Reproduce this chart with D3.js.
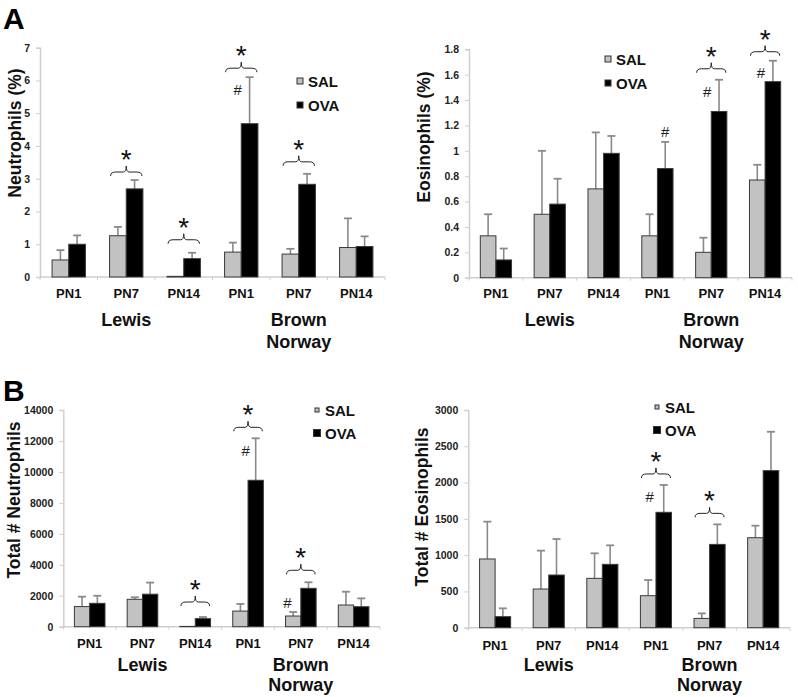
<!DOCTYPE html>
<html><head><meta charset="utf-8">
<script src="https://cdn.jsdelivr.net/npm/d3@7"></script>
<style>body{margin:0;background:#fff}svg{display:block}text{font-family:"Liberation Sans",Arial,sans-serif}</style>
</head><body><svg id="c" width="798" height="697"></svg>
<script>
// ---- data ----
const timepoints = ["PN1","PN7","PN14","PN1","PN7","PN14"];
const strains = ["Lewis","Brown Norway"];
const series = ["SAL","OVA"];

const neutPctSAL = [0.52,1.26,0.02,0.76,0.70,0.90];
const neutPctSALErr = [0.30,0.27,0,0.29,0.16,0.89];
const neutPctOVA = [1.00,2.69,0.56,4.68,2.83,0.93];
const neutPctOVAErr = [0.27,0.27,0.18,1.42,0.32,0.31];
const neutPctTicks = [0,1,2,3,4,5,6,7];

const eosPctSAL = [0.33,0.50,0.70,0.33,0.20,0.77];
const eosPctSALErr = [0.17,0.50,0.445,0.17,0.115,0.12];
const eosPctOVA = [0.14,0.58,0.98,0.86,1.31,1.545];
const eosPctOVAErr = [0.09,0.20,0.137,0.21,0.25,0.165];
const eosPctTicks = [0,0.2,0.4,0.6,0.8,1,1.2,1.4,1.6,1.8];

const neutTotSAL = [1300,1770,20,1010,690,1400];
const neutTotSALErr = [640,130,0,460,260,860];
const neutTotOVA = [1510,2100,520,9460,2480,1290];
const neutTotOVAErr = [490,750,105,2710,390,540];
const neutTotTicks = [0,2000,4000,6000,8000,10000,12000,14000];

const eosTotSAL = [947,533,680,441,128,1240];
const eosTotSALErr = [514,529,345,216,69,166];
const eosTotOVA = [152,726,873,1590,1148,2164];
const eosTotOVAErr = [115,496,262,377,276,536];
const eosTotTicks = [0,500,1000,1500,2000,2500,3000];

// significance: group indices with "*" (SAL vs OVA) and "#" (vs Lewis)
const neutPctStars = [1,2,3,4];
const neutPctHash = [3];
const eosPctStars = [4,5];
const eosPctHash = [3,4,5];
const neutTotStars = [2,3,4];
const neutTotHash = [3,4];
const eosTotStars = [3,4];
const eosTotHash = [3];

// ---- layout ----
const svg = d3.select("#c");
const panels = [
  {sal:neutPctSAL,salE:neutPctSALErr,ova:neutPctOVA,ovaE:neutPctOVAErr,ticks:neutPctTicks,
   title:"Neutrophils (%)",x0:40,x1:385,yTop:47.7,yBot:277,titleX:15,titleY:133,
   tickY:298,strainY:326,norwayY:348,leg:{x:300,y:81,gap:24,sal:6,ova:6},stars:neutPctStars,hash:neutPctHash,
   braceGap:[0,8,13,9,12,0], hashPos:{3:[-12,12]}},
  {sal:eosPctSAL,salE:eosPctSALErr,ova:eosPctOVA,ovaE:eosPctOVAErr,ticks:eosPctTicks,
   title:"Eosinophils (%)",x0:469,x1:792,yTop:49.3,yBot:277.7,titleX:424,titleY:137,
   tickY:298,strainY:326,norwayY:348,leg:{x:608,y:59,gap:24,sal:6,ova:6},stars:eosPctStars,hash:eosPctHash,
   braceGap:[0,0,0,0,11,9], hashPos:{3:[0,-10],4:[-12,12],5:[-12,12]}},
  {sal:neutTotSAL,salE:neutTotSALErr,ova:neutTotOVA,ovaE:neutTotOVAErr,ticks:neutTotTicks,
   title:"Total # Neutrophils",x0:63.3,x1:380,yTop:410,yBot:626.7,titleX:14,titleY:500,
   tickY:648,strainY:671,norwayY:691,leg:{x:317,y:410,gap:23,sal:4,ova:7},stars:neutTotStars,hash:neutTotHash,
   braceGap:[0,0,15,11,12,0], hashPos:{3:[-10,12],4:[-21,20]}},
  {sal:eosTotSAL,salE:eosTotSALErr,ova:eosTotOVA,ovaE:eosTotOVAErr,ticks:eosTotTicks,
   title:"Total # Eosinophils",x0:468.3,x1:790,yTop:410,yBot:627.7,titleX:422,titleY:507,
   tickY:650,strainY:671,norwayY:691,leg:{x:657,y:407,gap:23,sal:4,ova:7},stars:eosTotStars,hash:eosTotHash,
   braceGap:[0,0,0,11,11,0], hashPos:{3:[-14,12]}}
];

const salFill = "#c2c2c2", ovaFill = "#000", errCol = "#8a8a8a", axisCol = "#cfcfcf";

panels.forEach(p => {
  const g = svg.append("g");
  const n = timepoints.length;
  const x = d3.scaleBand().domain(d3.range(n)).range([p.x0, p.x1]).paddingInner(0.42).paddingOuter(0.21);
  const xi = d3.scaleBand().domain(series).range([0, x.bandwidth()]);
  const yMax = p.ticks[p.ticks.length-1];
  const y = d3.scaleLinear().domain([0, yMax]).range([p.yBot, p.yTop]);

  // y axis
  const ya = d3.axisLeft(y).tickValues(p.ticks).tickSize(4).tickPadding(6).tickFormat(d3.format("~g"));
  const yg = g.append("g").attr("transform", `translate(${p.x0},0)`).call(ya);
  yg.select(".domain").attr("stroke", axisCol).attr("stroke-width", 1.5);
  yg.selectAll(".tick line").attr("stroke", axisCol);
  yg.selectAll(".tick text").attr("font-size", 10.5).attr("font-weight", "bold").attr("fill", "#222");

  // x baseline and tick marks at group boundaries
  g.append("line").attr("x1", p.x0).attr("x2", p.x1).attr("y1", p.yBot).attr("y2", p.yBot)
    .attr("stroke", axisCol).attr("stroke-width", 1.5);
  const step = x.step();
  g.selectAll(".xt").data(d3.range(n+1)).join("line")
    .attr("x1", i => p.x0 + i*step).attr("x2", i => p.x0 + i*step)
    .attr("y1", p.yBot).attr("y2", p.yBot+3).attr("stroke", axisCol);

  // bars
  const rows = d3.range(n).flatMap(i => [
    {i, s:"SAL", v:p.sal[i], e:p.salE[i]},
    {i, s:"OVA", v:p.ova[i], e:p.ovaE[i]}]);
  const eb = rows.filter(d => d.e > 0);
  g.selectAll(".err").data(eb).join("line")
    .attr("x1", d => x(d.i)+xi(d.s)+xi.bandwidth()/2).attr("x2", d => x(d.i)+xi(d.s)+xi.bandwidth()/2)
    .attr("y1", d => y(d.v)).attr("y2", d => y(d.v+d.e))
    .attr("stroke", errCol).attr("stroke-width", 1.6);
  g.selectAll(".cap").data(eb).join("line")
    .attr("x1", d => x(d.i)+xi(d.s)+xi.bandwidth()/2-4).attr("x2", d => x(d.i)+xi(d.s)+xi.bandwidth()/2+4)
    .attr("y1", d => y(d.v+d.e)).attr("y2", d => y(d.v+d.e))
    .attr("stroke", errCol).attr("stroke-width", 1.8);
  g.selectAll(".bar").data(rows).join("rect")
    .attr("x", d => x(d.i)+xi(d.s)).attr("width", xi.bandwidth())
    .attr("y", d => y(d.v)).attr("height", d => p.yBot - y(d.v))
    .attr("fill", d => d.s==="SAL" ? salFill : ovaFill)
    .attr("stroke", "#3a3a3a").attr("stroke-width", 1);

  // category labels
  g.selectAll(".cat").data(timepoints).join("text")
    .attr("x", (d,i) => x(i)+x.bandwidth()/2).attr("y", p.tickY)
    .attr("text-anchor","middle").attr("font-size", 13).attr("font-weight","bold").attr("fill","#111").text(d => d);
  g.append("text").attr("x", x(1)+x.bandwidth()/2).attr("y", p.strainY).attr("text-anchor","middle")
    .attr("font-size", 18).attr("font-weight","bold").attr("fill","#111").text(strains[0]);
  const bn = strains[1].split(" ");
  g.append("text").attr("x", x(4)+x.bandwidth()/2).attr("y", p.strainY).attr("text-anchor","middle")
    .attr("font-size", 18).attr("font-weight","bold").attr("fill","#111").text(bn[0]);
  g.append("text").attr("x", x(4)+x.bandwidth()/2).attr("y", p.norwayY).attr("text-anchor","middle")
    .attr("font-size", 18).attr("font-weight","bold").attr("fill","#111").text(bn[1]);

  // y title
  g.append("text").attr("transform", `translate(${p.titleX},${p.titleY}) rotate(-90)`)
    .attr("text-anchor","middle").attr("dominant-baseline","central")
    .attr("font-size", 17.5).attr("font-weight","bold").attr("fill","#111").text(p.title);

  // legend
  series.forEach((s, k) => {
    const ly = p.leg.y + k*p.leg.gap;
    const sz = k===0 ? p.leg.sal : p.leg.ova;
    g.append("rect").attr("x", p.leg.x - sz/2).attr("y", ly - sz/2).attr("width", sz).attr("height", sz)
      .attr("fill", k===0 ? salFill : ovaFill).attr("stroke", "#333").attr("stroke-width", 1);
    g.append("text").attr("x", p.leg.x + 8).attr("y", ly).attr("dominant-baseline","central")
      .attr("font-size", 15).attr("font-weight","bold").attr("fill","#111").text(s);
  });

  // significance braces + asterisks
  p.stars.forEach(i => {
    const top = Math.min(y(p.sal[i]+p.salE[i]), y(p.ova[i]+p.ovaE[i]));
    const by = top - p.braceGap[i];
    const xl = x(i)+1, xr = x(i)+x.bandwidth()-1, xm = (xl+xr)/2;
    const path = `M${xl},${by+4} Q${xl},${by} ${xl+5},${by} L${xm-3},${by} Q${xm},${by} ${xm},${by-6} Q${xm},${by} ${xm+3},${by} L${xr-5},${by} Q${xr},${by} ${xr},${by+4}`;
    g.append("path").attr("d", path).attr("fill","none").attr("stroke","#222").attr("stroke-width",1);
    g.append("text").attr("x", xm).attr("y", by - 3).attr("text-anchor","middle")
      .attr("font-family","DejaVu Sans").attr("font-size", 28).attr("fill","#111").text("*");
  });
  p.hash.forEach(i => {
    const off = p.hashPos[i];
    const cx = x(i)+xi("OVA")+xi.bandwidth()/2 + off[0];
    const cy = y(p.ova[i]+p.ovaE[i]) + off[1];
    g.append("text").attr("x", cx).attr("y", cy).attr("text-anchor","middle").attr("dominant-baseline","central")
      .attr("font-size", 15).attr("fill","#222").text("#");
  });
});

// panel letters
svg.append("text").attr("x", 3).attr("y", 29).attr("font-size", 30).attr("font-weight","bold").attr("fill","#000").text("A");
svg.append("text").attr("x", 3).attr("y", 401).attr("font-size", 30).attr("font-weight","bold").attr("fill","#000").text("B");
</script></body></html>
